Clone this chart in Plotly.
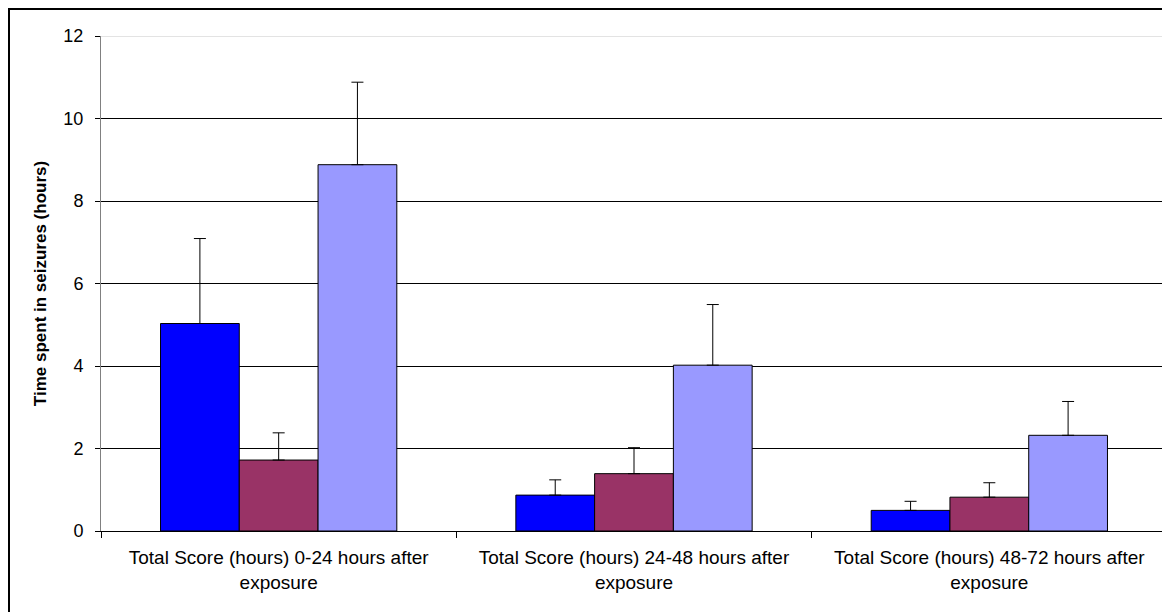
import plotly.graph_objects as go

categories = [
    "Total Score (hours) 0-24 hours after<br>exposure",
    "Total Score (hours) 24-48 hours after<br>exposure",
    "Total Score (hours) 48-72 hours after<br>exposure",
]
series_names = ["Series 1", "Series 2", "Series 3"]
series_values = [
    [5.03, 0.87, 0.50],
    [1.72, 1.39, 0.82],
    [8.88, 4.02, 2.32],
]
series_errors = [
    [2.06, 0.37, 0.22],
    [0.66, 0.63, 0.35],
    [2.00, 1.47, 0.82],
]
colors = ["#0000FF", "#993366", "#9999FF"]

W, H = 1162, 604
ML, MR, MT, MB = 93, 3, 28, 81
PW, PH = W - ML - MR, H - MT - MB

fig = go.Figure()
for name, vals, errs, col in zip(series_names, series_values, series_errors, colors):
    fig.add_trace(go.Bar(
        x=categories, y=vals, name=name,
        marker=dict(color=col, line=dict(color="#000000", width=1)),
        error_y=dict(type="data", symmetric=False, array=errs,
                     arrayminus=[0] * len(errs), color="#000000",
                     thickness=1, width=6),
    ))

fig.update_layout(
    width=W, height=H,
    barmode="group", bargap=0.335, bargroupgap=0,
    showlegend=False,
    plot_bgcolor="white", paper_bgcolor="white",
    margin=dict(l=ML, r=MR, t=MT, b=MB),
    font=dict(family="Liberation Sans, Arial, sans-serif", size=17, color="#000000"),
    xaxis=dict(
        showline=True, linecolor="#000000", linewidth=1,
        ticks="outside", ticklen=6, tickcolor="#000000", tickson="boundaries",
        showgrid=False, tickfont=dict(size=19), ticklabelstandoff=9,
    ),
    yaxis=dict(
        range=[0, 12], dtick=2, tick0=0,
        showline=True, linecolor="#808080", linewidth=1,
        ticks="outside", ticklen=5, tickcolor="#000000",
        showgrid=True, gridcolor="#000000", gridwidth=1,
        zeroline=False, tickfont=dict(size=18), ticklabelstandoff=8,
        title=dict(text="<b>Time spent in seizures (hours)</b>", font=dict(size=17), standoff=12),
    ),
    shapes=[
        dict(type="line", xref="paper", yref="y", x0=0, x1=1, y0=12, y1=12,
             line=dict(color="#c8c8c8", width=1), layer="above"),
        dict(type="rect", xref="paper", yref="paper",
             x0=(1 - ML) / PW, x1=(W + 40 - ML) / PW,
             y0=-(MB + 40) / PH, y1=(PH + MT - 1) / PH,
             line=dict(color="#000000", width=2), fillcolor="rgba(0,0,0,0)", layer="below"),
    ],
)

fig.write_html("out.html")
